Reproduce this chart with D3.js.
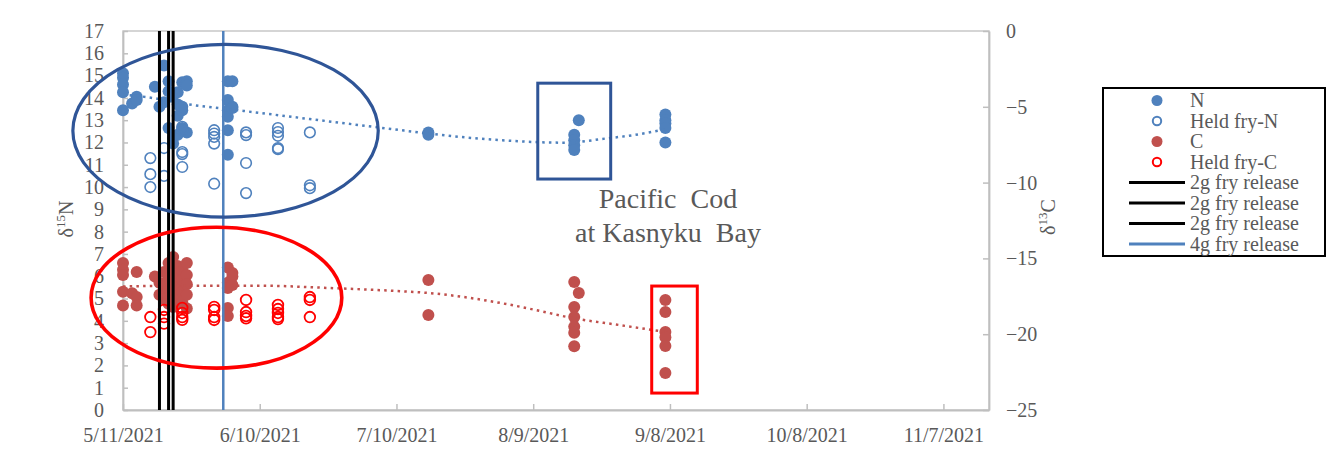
<!DOCTYPE html>
<html><head><meta charset="utf-8">
<script src="https://cdn.jsdelivr.net/npm/d3@7"></script>
<style>
html,body{margin:0;padding:0;background:#fff;}
svg{display:block;}
text{font-family:"Liberation Serif","Times New Roman",serif;fill:#595959;}
</style>
</head><body><div id="chart"></div>
<script>
// ---------------- DATA ----------------
const xTickLabels = ["5/11/2021","6/10/2021","7/10/2021","8/9/2021","9/8/2021","10/8/2021","11/7/2021"];
const leftTickValues = [0,1,2,3,4,5,6,7,8,9,10,11,12,13,14,15,16,17];
const rightTickValues = [0,-5,-10,-15,-20,-25];

// δ15N, fish (left axis)
const nSamples = [
  ["2021-05-11",[15.1,14.9,14.6,14.25,13.45]],
  ["2021-05-13",[13.75]],
  ["2021-05-14",[14.05,13.9]],
  ["2021-05-18",[14.5]],
  ["2021-05-19",[13.6]],
  ["2021-05-20",[15.45,13.8]],
  ["2021-05-21",[14.75,14.3,12.65]],
  ["2021-05-22",[14.1,11.95,12.2]],
  ["2021-05-23",[14.25,13.7,12.35,13.2]],
  ["2021-05-24",[14.7,13.45,13.6,12.65]],
  ["2021-05-25",[14.75,14.55,12.45]],
  ["2021-06-03",[14.75,13.9,13.45,13.15,12.55,11.45]],
  ["2021-06-04",[14.75,13.6,13.55]],
  ["2021-07-17",[12.45,12.35]],
  ["2021-08-18",[12.35,12.1,11.88,11.66]],
  ["2021-08-19",[13.0]],
  ["2021-09-07",[13.25,13.0,12.85,12.65,12.0]]
];
// δ15N, held fry (left axis)
const heldNSamples = [
  ["2021-05-17",[11.3,10.58,10.0]],
  ["2021-05-20",[11.75,10.5]],
  ["2021-05-24",[12.7,12.55,11.57,11.48,10.9]],
  ["2021-05-31",[12.55,12.4,12.25,11.95,10.15]],
  ["2021-06-07",[12.45,12.33,11.08,9.73]],
  ["2021-06-14",[12.65,12.47,12.3,11.75,11.7]],
  ["2021-06-21",[12.45,10.08,9.95]]
];
// δ13C, fish (right axis)
const cSamples = [
  ["2021-05-11",[-15.3,-15.75,-16.1,-17.2,-18.1]],
  ["2021-05-13",[-17.3]],
  ["2021-05-14",[-15.9,-17.55,-18.1]],
  ["2021-05-18",[-16.2]],
  ["2021-05-19",[-17.4,-16.6]],
  ["2021-05-20",[-17.3,-16.8,-17.7,-15.9]],
  ["2021-05-21",[-15.3,-16.3,-17.0,-17.6,-18.0]],
  ["2021-05-22",[-14.9,-15.7,-16.5,-17.2,-17.8,-18.2]],
  ["2021-05-23",[-15.5,-16.0,-16.9,-17.5,-18.0]],
  ["2021-05-24",[-15.8,-16.4,-17.2,-17.9]],
  ["2021-05-25",[-15.3,-16.1,-16.7,-17.4,-18.3]],
  ["2021-06-03",[-15.6,-16.6,-16.95,-18.27,-18.8]],
  ["2021-06-04",[-15.96,-16.2,-16.76]],
  ["2021-07-17",[-16.43,-18.73]],
  ["2021-08-18",[-16.56,-18.2,-18.87,-19.5,-19.9,-20.8]],
  ["2021-08-19",[-17.28]],
  ["2021-09-07",[-17.74,-18.54,-19.86,-20.2,-20.78,-22.56]]
];
// δ13C, held fry (right axis)
const heldCSamples = [
  ["2021-05-17",[-18.87,-19.86]],
  ["2021-05-20",[-18.4,-18.87,-19.3]],
  ["2021-05-24",[-18.27,-18.6,-18.87,-19.05]],
  ["2021-05-31",[-18.2,-18.4,-18.87,-19.06]],
  ["2021-06-07",[-17.74,-18.54,-18.8,-18.95]],
  ["2021-06-14",[-18.07,-18.34,-18.6,-18.87,-19.0]],
  ["2021-06-21",[-17.55,-17.74,-18.87]]
];
// dotted trend lines
const nTrendDates = ["2021-05-11","2021-05-16","2021-05-25","2021-06-05","2021-06-21","2021-07-09","2021-07-17","2021-08-02","2021-08-16","2021-08-25","2021-08-31","2021-09-07"];
const nTrendValues = [14.15,14.04,13.72,13.45,13.05,12.6,12.4,12.1,11.99,12.18,12.33,12.59];
const cTrendDates = ["2021-05-11","2021-05-25","2021-06-10","2021-06-25","2021-07-10","2021-07-17","2021-08-02","2021-08-11","2021-08-17","2021-08-28","2021-09-07"];
const cTrendValues = [-16.85,-16.8,-16.8,-16.95,-17.15,-17.28,-17.95,-18.5,-18.9,-19.4,-19.85];
// fry release dates
const releaseDates = ["2021-05-19","2021-05-21","2021-05-22"];
const release4gDate = "2021-06-02";
const legendLabels = ["N","Held fry-N","C","Held fry-C","2g fry release","2g fry release","2g fry release","4g fry release"];
const titleLines = ["Pacific  Cod","at Kasnyku  Bay"];

// ---------------- LAYOUT ----------------
const W = 1327, H = 453;
const L = 123, R = 989, T = 31, B = 410;
const pDate = d3.utcParse("%Y-%m-%d");
const pTick = d3.utcParse("%m/%d/%Y");
const fTick = d3.utcFormat("%-m/%-d/%Y");

const x = d3.scaleUtc().domain([pDate("2021-05-11"), pDate("2021-11-17")]).range([L, R]);
const yL = d3.scaleLinear().domain([0,17]).range([B, T]);
const yR = d3.scaleLinear().domain([-25,0]).range([B, T]);

const svg = d3.select("#chart").append("svg").attr("width", W).attr("height", H);
svg.append("rect").attr("width", W).attr("height", H).attr("fill", "#fff");

// plot frame
svg.append("rect").attr("x", L).attr("y", T).attr("width", R - L).attr("height", B - T)
  .attr("fill", "none").attr("stroke", "#c8c8c8").attr("stroke-width", 1.5);

const axisColor = "#bfbfbf";
function styleAxis(g, fs) {
  g.selectAll(".domain").attr("stroke", axisColor).attr("stroke-width", 1.8);
  g.selectAll(".tick line").attr("stroke", axisColor).attr("stroke-width", 1.5);
  g.selectAll(".tick text").attr("fill", "#595959").style("font-size", fs + "px")
    .style("font-family", '"Liberation Serif","Times New Roman",serif');
}

const gx = svg.append("g").attr("transform", `translate(0,${B})`)
  .call(d3.axisBottom(x).tickValues(xTickLabels.map(pTick)).tickFormat(fTick)
    .tickSizeInner(-6).tickSizeOuter(0).tickPadding(18));
styleAxis(gx, 20);

const gl = svg.append("g").attr("transform", `translate(${L},0)`)
  .call(d3.axisLeft(yL).tickValues(leftTickValues).tickSizeInner(-5).tickSizeOuter(0).tickPadding(19));
styleAxis(gl, 20);

const gr = svg.append("g").attr("transform", `translate(${R},0)`)
  .call(d3.axisRight(yR).tickValues(rightTickValues).tickSizeInner(-6).tickSizeOuter(0).tickPadding(17));
styleAxis(gr, 20);

// axis titles
const tl = svg.append("text").attr("transform", "translate(73,219) rotate(-90)")
  .attr("text-anchor", "middle").style("font-size", "20px");
tl.append("tspan").text("δ");
tl.append("tspan").attr("dy", -8).style("font-size", "13px").text("15");
tl.append("tspan").attr("dy", 8).text("N");

const tr = svg.append("text").attr("transform", "translate(1055,217) rotate(-90)")
  .attr("text-anchor", "middle").style("font-size", "20px");
tr.append("tspan").text("δ");
tr.append("tspan").attr("dy", -8).style("font-size", "13px").text("13");
tr.append("tspan").attr("dy", 8).text("C");

// flatten helper
const flat = arr => arr.flatMap(([d, vals]) => vals.map(v => ({date: pDate(d), v})));

const plot = svg.append("g");
const colN = "#4f81bd", colC = "#c0504d";

plot.selectAll("circle.n").data(flat(nSamples)).join("circle").attr("class","n")
  .attr("cx", d => x(d.date)).attr("cy", d => yL(d.v)).attr("r", 6).attr("fill", colN);
plot.selectAll("circle.hn").data(flat(heldNSamples)).join("circle").attr("class","hn")
  .attr("cx", d => x(d.date)).attr("cy", d => yL(d.v)).attr("r", 5.3)
  .attr("fill", "none").attr("stroke", colN).attr("stroke-width", 1.6);
plot.selectAll("circle.c").data(flat(cSamples)).join("circle").attr("class","c")
  .attr("cx", d => x(d.date)).attr("cy", d => yR(d.v)).attr("r", 6).attr("fill", colC);
plot.selectAll("circle.hc").data(flat(heldCSamples)).join("circle").attr("class","hc")
  .attr("cx", d => x(d.date)).attr("cy", d => yR(d.v)).attr("r", 5.3)
  .attr("fill", "none").attr("stroke", "#ff0000").attr("stroke-width", 1.8);

// trend lines
const nTrend = nTrendDates.map((d, i) => ({date: pDate(d), v: nTrendValues[i]}));
const cTrend = cTrendDates.map((d, i) => ({date: pDate(d), v: cTrendValues[i]}));
plot.append("path").datum(nTrend)
  .attr("d", d3.line().x(d => x(d.date)).y(d => yL(d.v)).curve(d3.curveMonotoneX))
  .attr("fill", "none").attr("stroke", colN).attr("stroke-width", 2.5)
  .attr("stroke-dasharray", "2.5,4.2");
plot.append("path").datum(cTrend)
  .attr("d", d3.line().x(d => x(d.date)).y(d => yR(d.v)).curve(d3.curveMonotoneX))
  .attr("fill", "none").attr("stroke", colC).attr("stroke-width", 2.5)
  .attr("stroke-dasharray", "2.5,4.2");

// release lines
plot.selectAll("line.rel").data(releaseDates.map(pDate)).join("line").attr("class","rel")
  .attr("x1", d => x(d)).attr("x2", d => x(d)).attr("y1", T).attr("y2", B)
  .attr("stroke", "#000").attr("stroke-width", 3);
plot.append("line").attr("x1", x(pDate(release4gDate))).attr("x2", x(pDate(release4gDate)))
  .attr("y1", T).attr("y2", B).attr("stroke", colN).attr("stroke-width", 2.5);

// annotation shapes, placed in data space
const darkBlue = "#2f5597";
function ellipse(d0, d1, v0, v1, yScale, color, sw) {
  const x0 = x(pDate(d0)), x1 = x(pDate(d1)), y0 = yScale(v0), y1 = yScale(v1);
  svg.append("ellipse").attr("cx", (x0 + x1) / 2).attr("cy", (y0 + y1) / 2)
    .attr("rx", Math.abs(x1 - x0) / 2).attr("ry", Math.abs(y1 - y0) / 2)
    .attr("fill", "none").attr("stroke", color).attr("stroke-width", sw);
}
function box(d0, d1, v0, v1, yScale, color, sw) {
  const x0 = x(pDate(d0)), x1 = x(pDate(d1)), y0 = yScale(v0), y1 = yScale(v1);
  svg.append("rect").attr("x", Math.min(x0, x1)).attr("y", Math.min(y0, y1))
    .attr("width", Math.abs(x1 - x0)).attr("height", Math.abs(y1 - y0))
    .attr("fill", "none").attr("stroke", color).attr("stroke-width", sw);
}
ellipse("2021-04-30", "2021-07-06", 16.4, 8.65, yL, darkBlue, 3.2);
ellipse("2021-05-04", "2021-06-28", 8.2, 1.88, yL, "#ff0000", 3.6);
box("2021-08-10", "2021-08-26", 14.66, 10.36, yL, darkBlue, 3);
box("2021-09-04", "2021-09-14", 5.56, 0.76, yL, "#ff0000", 3);

// chart title text
svg.selectAll("text.ttl").data(titleLines).join("text").attr("class","ttl")
  .attr("x", 668).attr("y", (d, i) => 208 + i * 34)
  .attr("text-anchor", "middle").style("font-size", "28px")
  .style("white-space", "pre").attr("xml:space", "preserve").text(d => d);

// legend
const lg = svg.append("g");
lg.append("rect").attr("x", 1103).attr("y", 88).attr("width", 222).attr("height", 168)
  .attr("fill", "#fff").attr("stroke", "#000").attr("stroke-width", 2);
const rowY = i => 100.5 + i * 20.5;
const mk = [
  {t:"dot", c:colN}, {t:"ring", c:colN}, {t:"dot", c:colC}, {t:"ring", c:"#ff0000"},
  {t:"line", c:"#000"}, {t:"line", c:"#000"}, {t:"line", c:"#000"}, {t:"line", c:colN}
];
mk.forEach((m, i) => {
  if (m.t === "dot") lg.append("circle").attr("cx", 1157).attr("cy", rowY(i)).attr("r", 5.5).attr("fill", m.c);
  else if (m.t === "ring") lg.append("circle").attr("cx", 1157).attr("cy", rowY(i)).attr("r", 4.2)
    .attr("fill", "none").attr("stroke", m.c).attr("stroke-width", 2);
  else lg.append("line").attr("x1", 1129).attr("x2", 1185).attr("y1", rowY(i)).attr("y2", rowY(i))
    .attr("stroke", m.c).attr("stroke-width", 3);
});
lg.selectAll("text.lg").data(legendLabels).join("text").attr("class","lg")
  .attr("x", 1190).attr("y", (d, i) => rowY(i)).attr("dy", "0.33em")
  .style("font-size", "20px").text(d => d);
</script>
</body></html>
